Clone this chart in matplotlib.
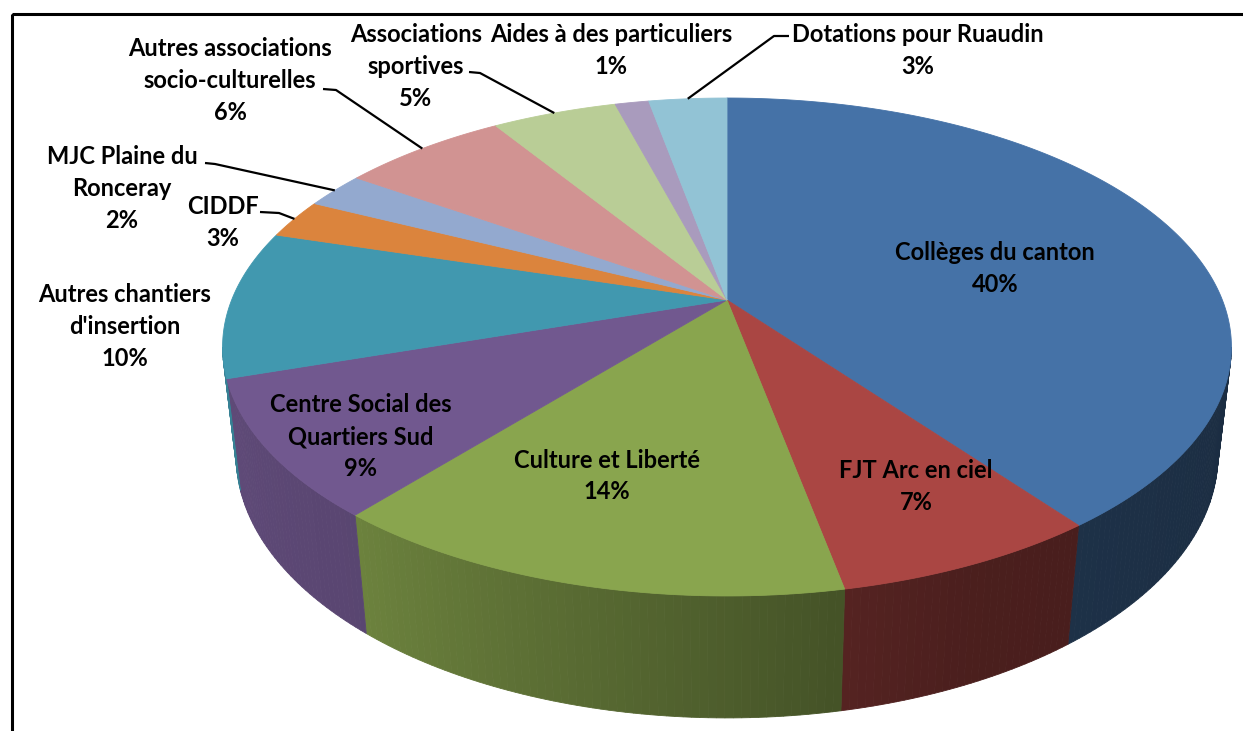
import numpy as np
import matplotlib
matplotlib.use("Agg")
import matplotlib.pyplot as plt
from matplotlib.patches import Polygon, Rectangle

# ---------------- data ----------------
categories = ["Collèges du canton", "FJT Arc en ciel", "Culture et Liberté",
              "Centre Social des\nQuartiers Sud", "Autres chantiers\nd'insertion",
              "CIDDF", "MJC Plaine du\nRonceray", "Autres associations\nsocio-culturelles",
              "Associations\nsportives", "Aides à des particuliers", "Dotations pour Ruaudin"]
values = [39.7, 7.2, 14.2, 8.9, 9.6, 2.55, 2.35, 6.4, 4.8, 1.3, 3.0]
colors = ["#4572A7", "#AA4643", "#89A54E", "#71588F", "#4198AF", "#DB843D",
          "#93A9CF", "#D19392", "#B9CD96", "#A99BBD", "#92C3D5"]

# ---------------- layout / style ----------------
W, H_PX = 1243, 731
CX, CY = 727, 300          # pixel position of pie centre
F = 2296.0                 # focal length (px)
DIST = 4.635               # camera distance (radius units)
ELEV = np.arcsin(0.4847)   # elevation angle
THICK = 0.254              # pie thickness (radius units)

# label anchors: (x centre, y of first line)
label_pos = [(995, 253), (916, 471), (607, 460), (361, 405), (125, 295), (223, 207),
             (122, 157), (230, 49), (416, 35), (611, 35), (918, 35)]
LINE_STEP = 31.8
# leader ticks near the label (start, inner end); None = no leader
leaders = [None, None, None, None, None,
           ((260, 212), (279, 213)),
           ((205, 163), (215, 164)),
           ((323, 89), (336, 90)),
           ((469, 72), (480, 73)),
           None,
           ((789, 36), (774, 36))]

FONT = ["Lato", "DejaVu Sans"]
FSIZE = 17


def proj(theta, z):
    X, Y = np.cos(theta), np.sin(theta)
    yv = Y * np.sin(ELEV) + z * np.cos(ELEV)
    d = DIST + Y * np.cos(ELEV) - z * np.sin(ELEV)
    return CX + F * X / d, CY - F * yv / d


def shade(hexcol, fac):
    c = np.array(matplotlib.colors.to_rgb(hexcol))
    return tuple(np.clip(c * fac, 0, 1))


def wall_factor(theta_deg):
    phi = theta_deg + 180.0
    return np.interp(phi, [0, 18, 50, 101, 114, 180], [0.86, 0.84, 0.79, 0.50, 0.44, 0.38])


fig = plt.figure(figsize=(W / 100, H_PX / 100), dpi=100)
ax = fig.add_axes([0, 0, 1, 1])
ax.set_xlim(0, W)
ax.set_ylim(H_PX, 0)
ax.axis("off")

# slice angles (clockwise from 90 deg)
total = sum(values)
starts, ends = [], []
a = 90.0
for v in values:
    starts.append(a)
    a -= v / total * 360.0
    ends.append(a)

# visible wall range
c_ratio = np.cos(ELEV) / DIST
vis_lo = -180.0 + np.degrees(np.arcsin(c_ratio))
vis_hi = -np.degrees(np.arcsin(c_ratio))

# walls
for s, e, col in zip(starts, ends, colors):
    hi, lo = min(s, vis_hi), max(e, vis_lo)
    if hi <= lo:
        continue
    n = max(2, int((hi - lo) / 0.8) + 1)
    th = np.linspace(hi, lo, n)
    for t0, t1 in zip(th[:-1], th[1:]):
        r0, r1 = np.radians(t0), np.radians(t1)
        p = [proj(r0, 0), proj(r1, 0), proj(r1, -THICK), proj(r0, -THICK)]
        fc = shade(col, wall_factor((t0 + t1) / 2))
        ax.add_patch(Polygon(p, closed=True, facecolor=fc, edgecolor=fc, lw=0.6))

# top faces
for s, e, col in zip(starts, ends, colors):
    th = np.radians(np.linspace(s, e, max(3, int(abs(s - e) * 2))))
    xs, ys = proj(th, 0.0)
    pts = [(CX, CY)] + list(zip(xs, ys))
    ax.add_patch(Polygon(pts, closed=True, facecolor=col, edgecolor=col, lw=0.6))

# labels
for name, v, (lx, ly) in zip(categories, values, label_pos):
    lines = name.split("\n") + [f"{v:.0f}%"]
    for k, txt in enumerate(lines):
        ax.text(lx, ly + k * LINE_STEP, txt, ha="center", va="center",
                fontsize=FSIZE, fontweight="bold", family=FONT, color="black")

# leader lines
for s, e, ld in zip(starts, ends, leaders):
    if ld is None:
        continue
    mid = np.radians((s + e) / 2)
    px, py = proj(mid, 0.0)
    (x0, y0), (x1, y1) = ld
    ax.plot([x0, x1, px], [y0, y1, py], color="black", lw=1.6, solid_capstyle="butt")

# frame (cut by image border)
ax.add_patch(Rectangle((12, 14), 1300, 800, fill=False, edgecolor="black", lw=2.2))

fig.savefig("out.png", dpi=100)
